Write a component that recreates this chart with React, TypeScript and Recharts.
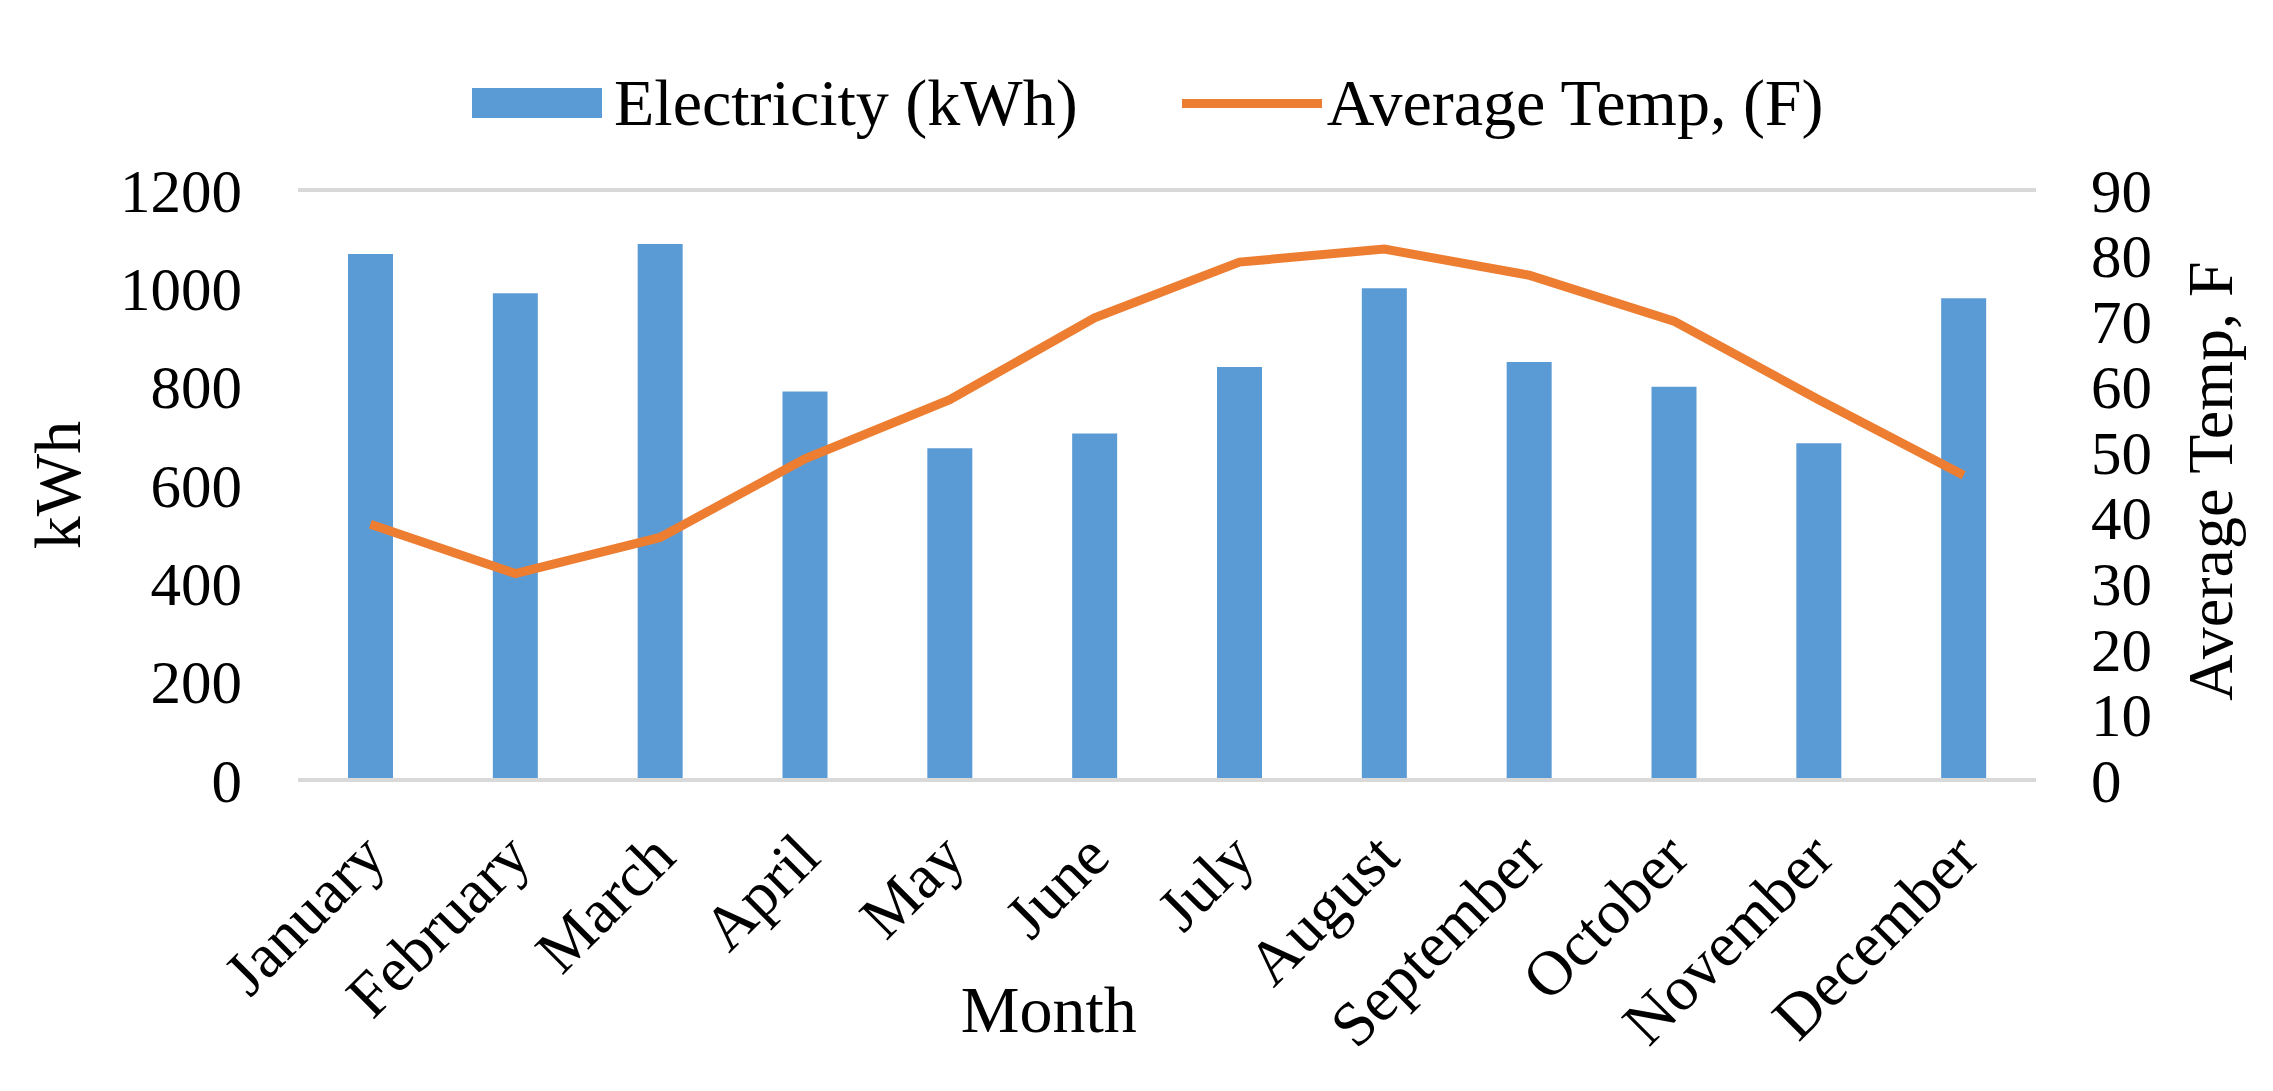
import React from 'react';
import { ComposedChart, Bar, Line, XAxis, YAxis, CartesianGrid, Legend } from 'recharts';

const MONTHS = [
  'January', 'February', 'March', 'April', 'May', 'June',
  'July', 'August', 'September', 'October', 'November', 'December',
];
const ELECTRICITY_KWH = [1070, 990, 1090, 790, 675, 705, 840, 1000, 850, 800, 685, 980];
const AVG_TEMP_F = [39, 31.5, 37, 49, 58, 70.5, 79, 81, 77, 70, 58, 46.5];
const KWH_TICKS = [0, 200, 400, 600, 800, 1000, 1200];
const TEMP_TICKS = [0, 10, 20, 30, 40, 50, 60, 70, 80, 90];

const BLUE = '#5B9BD5';
const ORANGE = '#ED7D31';
const GRID = '#D9D9D9';
const FONT = '"Liberation Serif", "Times New Roman", serif';
const TICK_SIZE = 61;
const TEXT_SIZE = 66;

const data = MONTHS.map((month, i) => ({
  month,
  kwh: ELECTRICITY_KWH[i],
  temp: AVG_TEMP_F[i],
}));

function MonthTick({ x, y, payload }: any) {
  return (
    <g transform={`translate(${x + 18},${y + 78})`}>
      <text
        textAnchor="end"
        transform="rotate(-45)"
        fontFamily={FONT}
        fontSize={63}
        fill="#000"
      >
        {payload.value}
      </text>
    </g>
  );
}

const renderLegend = () => (
  <div
    style={{
      display: 'flex',
      alignItems: 'center',
      fontFamily: FONT,
      fontSize: TEXT_SIZE,
      lineHeight: 1,
      color: '#000',
      whiteSpace: 'nowrap',
    }}
  >
    <span style={{ display: 'inline-block', width: 130, height: 30, background: BLUE, marginRight: 12 }} />
    <span>Electricity (kWh)</span>
    <span style={{ display: 'inline-block', width: 140, height: 9, background: ORANGE, marginLeft: 104, marginRight: 5 }} />
    <span>Average Temp, (F)</span>
  </div>
);

export default function App() {
  const tickStyle = { fontFamily: FONT, fontSize: TICK_SIZE, fill: '#000' };
  return (
    <div style={{ position: 'absolute', left: 0, top: 0, background: '#fff' }}>
      <ComposedChart
        width={2273}
        height={1091}
        data={data}
        margin={{ top: 190, right: 0, bottom: 0, left: 0 }}
      >
        <CartesianGrid vertical={false} stroke={GRID} strokeWidth={4} />
        <XAxis
          dataKey="month"
          height={311}
          interval={0}
          tickLine={false}
          tickSize={0}
          axisLine={{ stroke: GRID, strokeWidth: 4 }}
          tick={<MonthTick />}
          label={{
            content: ({ viewBox }: any) => (
              <text
                x={viewBox.x + viewBox.width * 0.432}
                y={viewBox.y + 252}
                textAnchor="middle"
                fontFamily={FONT}
                fontSize={TEXT_SIZE}
                fill="#000"
              >
                Month
              </text>
            ),
          }}
        />
        <YAxis
          yAxisId="left"
          width={298}
          domain={[0, 1200]}
          ticks={KWH_TICKS}
          interval={0}
          axisLine={false}
          tickLine={false}
          tickSize={0}
          tickMargin={56}
          tick={tickStyle}
          label={{
            content: ({ viewBox }: any) => {
              const cx = viewBox.x + 57;
              const cy = viewBox.y + viewBox.height / 2;
              return (
                <text
                  x={cx}
                  y={cy}
                  transform={`rotate(-90 ${cx} ${cy})`}
                  textAnchor="middle"
                  dominantBaseline="central"
                  fontFamily={FONT}
                  fontSize={TEXT_SIZE}
                  fill="#000"
                >
                  kWh
                </text>
              );
            },
          }}
        />
        <YAxis
          yAxisId="right"
          orientation="right"
          width={237}
          domain={[0, 90]}
          ticks={TEMP_TICKS}
          interval={0}
          axisLine={false}
          tickLine={false}
          tickSize={0}
          tickMargin={55}
          tick={{ ...tickStyle, textAnchor: 'start' }}
          label={{
            content: ({ viewBox }: any) => {
              const cx = viewBox.x + 174;
              const cy = viewBox.y + viewBox.height / 2 - 4;
              return (
                <text
                  x={cx}
                  y={cy}
                  transform={`rotate(-90 ${cx} ${cy})`}
                  textAnchor="middle"
                  dominantBaseline="central"
                  fontFamily={FONT}
                  fontSize={64}
                  fill="#000"
                >
                  Average Temp, F
                </text>
              );
            },
          }}
        />
        <Legend
          layout="horizontal"
          verticalAlign="middle"
          align="center"
          content={renderLegend}
          wrapperStyle={{ top: 70, left: 472, width: 'auto', height: 'auto' }}
        />
        <Bar
          yAxisId="left"
          dataKey="kwh"
          name="Electricity (kWh)"
          fill={BLUE}
          barSize={45}
          isAnimationActive={false}
        />
        <Line
          yAxisId="right"
          type="linear"
          dataKey="temp"
          name="Average Temp, (F)"
          stroke={ORANGE}
          strokeWidth={9}
          dot={false}
          activeDot={false}
          isAnimationActive={false}
        />
      </ComposedChart>
    </div>
  );
}
